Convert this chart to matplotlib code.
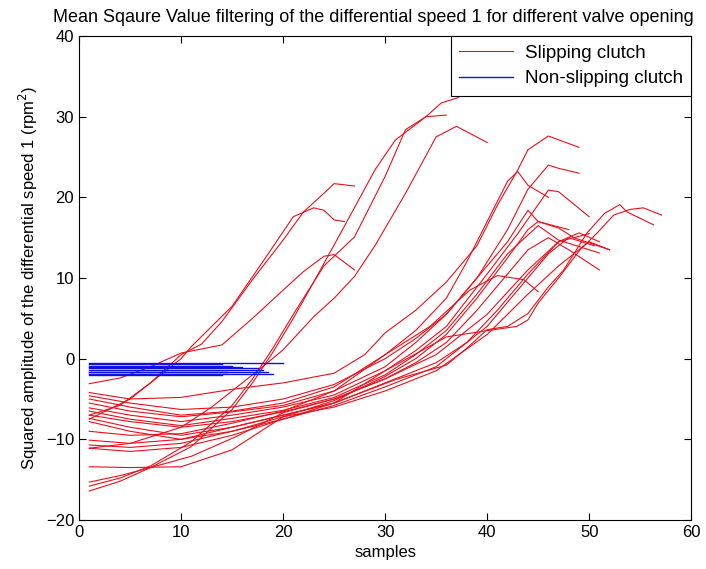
import matplotlib.pyplot as plt

plt.rcParams['font.family'] = ['Liberation Sans', 'DejaVu Sans']

# early-rising slipping curves (x, y)
e1_x = [1, 4, 7, 10, 12, 14, 17, 20, 22, 24, 25, 27]
e1_y = [-7.0, -5.8, -3.0, 0.5, 1.8, 4.6, 9.8, 14.7, 18.2, 20.5, 21.7, 21.4]
e2_x = [1, 5, 8, 10, 11, 13, 15, 18, 21, 23, 24, 25, 26]
e2_y = [-7.5, -5.0, -2.0, 0.0, 1.5, 4.0, 6.5, 12.0, 17.6, 18.7, 18.4, 17.2, 17.0]
e3_x = [1, 4, 7, 10, 14, 17, 20, 22, 24, 25, 27]
e3_y = [-3.1, -2.4, -1.0, 0.7, 1.7, 5.0, 8.5, 10.8, 12.7, 12.9, 11.0]
e4_x = [1, 4, 7, 11, 15, 17, 19, 21, 23, 26, 29, 31, 34, 35.5, 37, 38]
e4_y = [-15.3, -14.5, -13.5, -10.9, -6.3, -3.0, 0.8, 5.0, 9.5, 16.4, 23.4, 27.1, 30.0, 31.7, 32.3, 33.0]
e5_x = [1, 4, 7, 11, 15, 17, 19, 21, 24, 27, 30, 32, 34, 36]
e5_y = [-15.8, -14.8, -13.3, -10.3, -5.8, -2.5, 1.3, 5.5, 11.5, 15.1, 22.6, 28.4, 30.0, 30.2]
e6_x = [1, 5, 10, 13, 16, 18, 20, 23, 25, 27, 29, 32, 35, 37, 40]
e6_y = [-11.1, -10.5, -8.5, -6.0, -3.0, -1.0, 1.1, 5.2, 7.5, 10.2, 14.0, 20.5, 27.5, 28.8, 26.8]

# late-rising slipping curves
l1_x = [1, 5, 10, 15, 20, 25, 28, 30, 33, 36, 39, 41, 43, 44, 46, 47.5, 49]
l1_y = [-4.2, -5.0, -4.8, -3.8, -3.0, -1.8, 0.5, 3.2, 6.0, 9.5, 14.0, 19.0, 23.4, 25.9, 27.6, 26.9, 26.2]
l2_x = [1, 5, 10, 15, 20, 25, 30, 33, 36, 39, 42, 44, 46, 47, 49]
l2_y = [-4.6, -5.5, -6.3, -6.0, -5.0, -3.2, 0.0, 2.5, 5.5, 10.0, 16.0, 21.0, 24.0, 23.6, 23.0]
l3_x = [1, 5, 10, 15, 20, 25, 30, 33, 36, 38, 40, 42, 43, 44, 46]
l3_y = [-5.0, -6.0, -7.0, -6.5, -5.5, -3.5, 0.5, 3.5, 7.5, 12.0, 17.0, 22.0, 23.2, 21.5, 20.0]
l4_x = [1, 5, 10, 15, 20, 25, 30, 33, 36, 39, 42, 44, 45, 47, 48.5, 52]
l4_y = [-5.5, -6.5, -7.2, -6.6, -5.8, -4.0, -1.0, 2.0, 5.5, 10.0, 14.5, 18.4, 17.0, 16.2, 15.0, 13.5]
l5_x = [1, 5, 10, 15, 20, 25, 30, 33, 36, 40, 43, 46, 47, 50]
l5_y = [-6.1, -7.0, -7.8, -7.0, -6.0, -4.5, -1.5, 1.0, 4.0, 10.5, 15.5, 20.9, 20.7, 17.6]
l6_x = [1, 5, 10, 15, 20, 25, 30, 33, 36, 39, 42, 45, 47, 51]
l6_y = [-6.5, -7.5, -8.3, -7.4, -6.4, -4.8, -2.0, 0.5, 3.5, 8.0, 13.0, 16.5, 14.7, 13.1]
l7_x = [1, 5, 10, 15, 20, 25, 30, 33, 36, 39, 42, 44, 46, 48, 51]
l7_y = [-7.0, -7.8, -8.5, -7.8, -6.6, -5.0, -2.5, -0.5, 2.0, 6.0, 10.5, 13.5, 15.0, 13.5, 11.0]
l8_x = [1, 5, 10, 15, 20, 25, 31, 36, 38, 40, 42, 44, 46, 47.5, 49.8, 51.5, 53, 53.7, 56.3]
l8_y = [-7.4, -8.5, -9.5, -8.5, -7.0, -5.5, -2.6, -0.8, 1.3, 3.6, 4.0, 5.6, 8.9, 11.0, 15.6, 18.0, 19.1, 18.2, 16.6]
l9_x = [1, 5, 10, 15, 20, 25, 30, 36, 39.6, 42.9, 44, 45, 47, 49.1, 50.8, 52.4, 54, 55.3, 57.1]
l9_y = [-7.8, -9.0, -10.0, -9.0, -7.5, -5.5, -1.5, 2.7, 3.4, 4.0, 4.8, 6.9, 10.0, 13.5, 15.6, 17.8, 18.5, 18.7, 17.8]
l10_x = [1, 5, 10, 15, 20, 25, 30, 34.4, 38.3, 41, 43.6, 45]
l10_y = [-9.0, -9.5, -9.3, -8.0, -6.5, -4.0, 0.5, 4.0, 8.5, 10.3, 9.8, 8.3]
l11_x = [1, 5, 10, 15, 20, 25, 30, 35, 38, 41, 44, 47, 49, 51]
l11_y = [-10.1, -10.5, -10.0, -8.5, -7.0, -5.5, -3.0, -0.5, 2.0, 6.0, 10.5, 14.5, 15.6, 14.5]
l12_x = [1, 5, 10, 15, 20, 25, 30, 33, 36, 39, 42, 44, 45, 48]
l12_y = [-10.7, -11.0, -10.5, -9.0, -7.2, -5.2, -2.2, 0.0, 3.0, 7.5, 12.5, 16.0, 17.0, 16.0]
l13_x = [1, 5, 10, 15, 20, 25, 30, 35, 40, 43, 46, 48, 50.5]
l13_y = [-11.1, -11.5, -11.0, -9.5, -7.5, -5.8, -3.5, -1.0, 4.0, 8.5, 13.0, 15.0, 14.0]
l14_x = [1, 5, 10, 15, 20, 25, 30, 35, 40, 44, 47, 50, 52]
l14_y = [-13.4, -13.5, -13.4, -11.3, -7.2, -6.0, -4.0, -1.5, 3.0, 8.0, 11.5, 14.5, 13.5]
l15_x = [1, 4, 7, 11, 15.5, 20, 25, 30, 35, 40, 44, 47, 50]
l15_y = [-16.4, -15.2, -13.5, -12.1, -9.6, -6.7, -5.0, -2.5, 0.5, 5.5, 11.0, 14.5, 15.5]

slip = [(e1_x, e1_y), (e2_x, e2_y), (e3_x, e3_y), (e4_x, e4_y), (e5_x, e5_y), (e6_x, e6_y),
        (l1_x, l1_y), (l2_x, l2_y), (l3_x, l3_y), (l4_x, l4_y), (l5_x, l5_y), (l6_x, l6_y),
        (l7_x, l7_y), (l8_x, l8_y), (l9_x, l9_y), (l10_x, l10_y), (l11_x, l11_y),
        (l12_x, l12_y), (l13_x, l13_y), (l14_x, l14_y), (l15_x, l15_y)]

# non-slipping: nearly constant levels, (last sample, level)
ns_end = [20, 14, 15, 16, 17.5, 18, 14.5, 18.5, 19, 14]
ns_level = [-0.5, -0.7, -0.9, -1.0, -1.2, -1.4, -1.6, -1.7, -1.9, -2.0]

fig = plt.figure(figsize=(7.06, 5.69), dpi=100)
ax = fig.add_axes([0.112, 0.0861, 0.867, 0.8506])

for i, (x, y) in enumerate(slip):
    ax.plot(x, y, color='#e8101c', lw=0.8, label='Slipping clutch' if i == 0 else None)
for i, (xe, lv) in enumerate(zip(ns_end, ns_level)):
    ax.plot([1, xe], [lv, lv], color='#1010e0', lw=1.0, label='Non-slipping clutch' if i == 0 else None)

ax.set_xlim(0, 60)
ax.set_ylim(-20, 40)
ax.set_xticks(range(0, 61, 10))
ax.set_yticks(range(-20, 41, 10))
ax.tick_params(direction='in', top=True, right=True, labelsize=12, length=5)
ax.set_xlabel('samples', fontsize=12)
ax.set_ylabel('Squared amplitude of the differential speed 1 (rpm$^2$)', fontsize=12)
ax.set_title('Mean Sqaure Value filtering of the differential speed 1 for different valve opening',
             fontsize=13, pad=10, x=0.48)

leg = ax.legend(loc='upper right', borderaxespad=0, fancybox=False, framealpha=1,
                edgecolor='black', fontsize=13.5, handlelength=2.9, labelspacing=0.45,
                borderpad=0.45, handletextpad=0.6)
leg.get_frame().set_linewidth(0.8)

fig.savefig('out.png', dpi=100)
